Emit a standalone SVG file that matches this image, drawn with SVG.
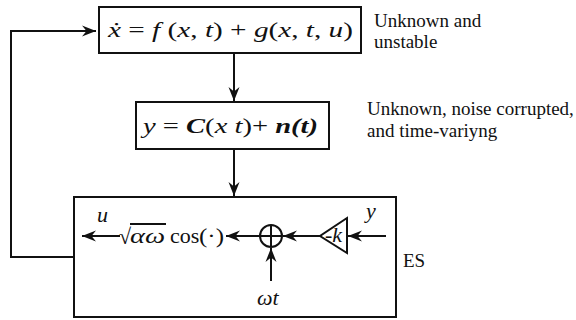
<svg xmlns="http://www.w3.org/2000/svg" width="576" height="320" viewBox="0 0 576 320" font-family="Liberation Serif, DejaVu Serif, serif">
<style>
.box{fill:none;stroke:#111;stroke-width:2}
.ln{fill:none;stroke:#111;stroke-width:2}
text{fill:#111}
.lbl{font-size:19px}
.m{font-size:22px}
.i{font-style:italic}
.b{font-weight:bold;font-style:italic}
</style>
<defs>
<marker id="ah" markerUnits="userSpaceOnUse" markerWidth="16" markerHeight="12" viewBox="-15 -6 16 12" refX="0" refY="0" orient="auto">
<path d="M-14,-5.5 L0,0 L-14,5.5 L-9.5,0 z" fill="#111"/>
</marker>
</defs>
<rect width="576" height="320" fill="#fff"/>
<g id="plant">
<rect class="box" x="99" y="7" width="262" height="46"/>
<text class="m" x="108" y="37" textLength="245" lengthAdjust="spacingAndGlyphs"><tspan class="i">ẋ</tspan> = <tspan class="i">f</tspan> (<tspan class="i">x</tspan>, <tspan class="i">t</tspan>) + <tspan class="i">g</tspan>(<tspan class="i">x</tspan>, <tspan class="i">t</tspan>, <tspan class="i">u</tspan>)</text>
<text class="lbl" x="374" y="27">Unknown and</text>
<text class="lbl" x="374" y="48">unstable</text>
</g>
<g id="sensor">
<rect class="box" x="136" y="102" width="193" height="47"/>
<text class="m" x="143" y="133" textLength="175" lengthAdjust="spacingAndGlyphs"><tspan class="i">y</tspan> = <tspan class="b">C</tspan>(<tspan class="i">x</tspan>  <tspan class="i">t</tspan>)+ <tspan class="b">n(t)</tspan></text>
<text class="lbl" x="367" y="115">Unknown, noise corrupted,</text>
<text class="lbl" x="367" y="137">and time-variyng</text>
</g>
<g id="es">
<rect class="box" x="74" y="197" width="322" height="120"/>
<text class="lbl" x="403" y="267">ES</text>
<text class="m i" x="97" y="222" font-size="20">u</text>
<text class="m" x="119" y="244" font-size="22">√</text>
<line class="ln" x1="130" y1="224" x2="166" y2="224" stroke-width="1.3"/>
<text class="m i" x="130" y="243" font-size="20" textLength="35" lengthAdjust="spacingAndGlyphs">αω</text>
<text class="m" x="170" y="243" font-size="20">cos</text>
<text class="m" x="199" y="243" font-size="20" textLength="25" lengthAdjust="spacingAndGlyphs">(·)</text>
<circle class="ln" cx="271" cy="236" r="11"/>
<line class="ln" x1="260" y1="236" x2="282" y2="236"/>
<line class="ln" x1="271" y1="225" x2="271" y2="247"/>
<path class="ln" d="M347,218 L320,236 L347,253 Z"/>
<text class="m" x="325" y="242" font-size="16">-<tspan class="i">k</tspan></text>
<text class="m i" x="366" y="218" font-size="20">y</text>
<text class="m i" x="257" y="305" font-size="20">ωt</text>
</g>
<g id="connectors">
<path class="ln" d="M74,257 H11 V31 H96" marker-end="url(#ah)"/>
<path class="ln" d="M234,53 V101" marker-end="url(#ah)"/>
<path class="ln" d="M234,149 V196" marker-end="url(#ah)"/>
<path class="ln" d="M120,236 H82" marker-end="url(#ah)"/>
<path class="ln" d="M260,236 H226" marker-end="url(#ah)"/>
<path class="ln" d="M320,236 H283" marker-end="url(#ah)"/>
<path class="ln" d="M386,236 H348" marker-end="url(#ah)"/>
<path class="ln" d="M271,281 V248" marker-end="url(#ah)"/>
</g>
</svg>
